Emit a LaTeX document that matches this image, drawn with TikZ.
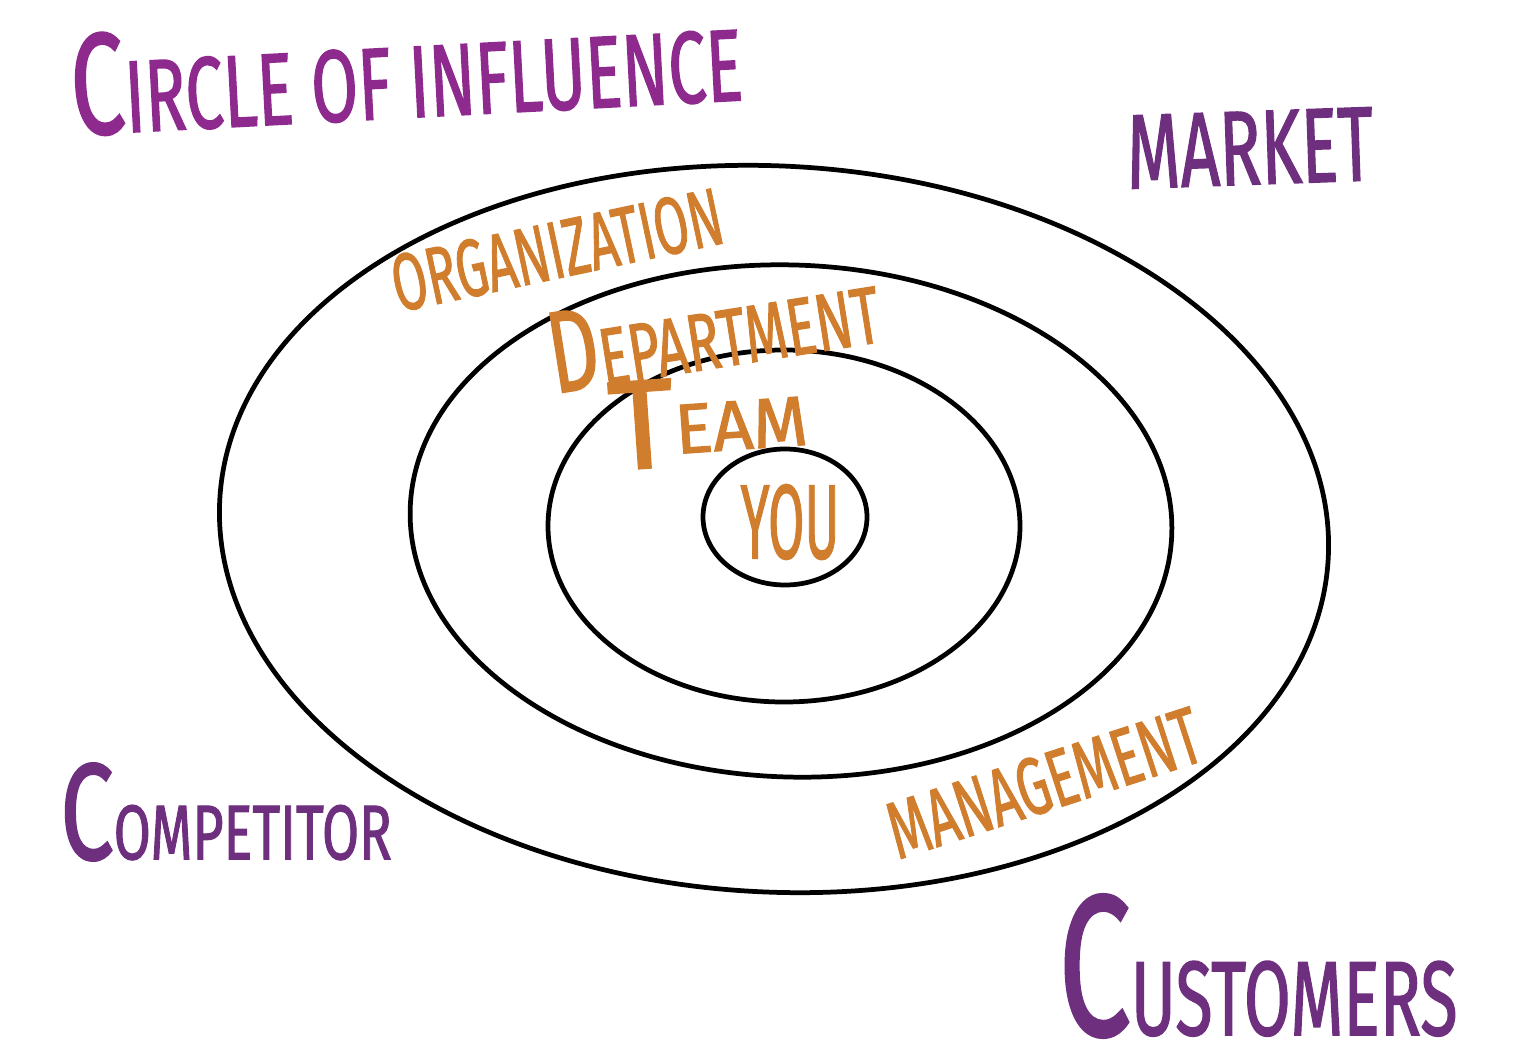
\documentclass[tikz,border=0pt]{standalone}
\usepackage{fontspec}
\setmainfont{Fira Sans}
\newfontfamily\handfont{Fira Sans}[FakeBold=1.6, AutoFakeBold=1.6]
\usepackage{graphicx}
\usetikzlibrary{positioning}

\definecolor{plum}{HTML}{8E2A8E}
\definecolor{grape}{HTML}{6E2F7E}
\definecolor{ochre}{HTML}{D07E2E}

\newcommand{\squeeze}[2][0.62]{\scalebox{#1}[1]{\handfont\bfseries #2}}
\newcommand{\fsz}[1]{\fontsize{#1}{#1}\selectfont}

\begin{document}
\begin{tikzpicture}[x=0.01cm, y=-0.01cm,
    ring/.style={draw=black, line width=1.35pt},
    heading/.style={text=plum, inner sep=0pt},
    outside/.style={text=grape, inner sep=0pt},
    level/.style={text=ochre, inner sep=0pt}]

\useasboundingbox (0,0) rectangle (1530,1064);

% rings
\draw[ring, rotate around={-3:(774,529)}] (774,529) ellipse [x radius=555, y radius=363];
\draw[ring, rotate around={-2:(791,521)}] (791,521) ellipse [x radius=381, y radius=256];
\draw[ring] (784,526) ellipse [x radius=236, y radius=176];
\draw[ring] (785,517) ellipse [x radius=82, y radius=68];

% titles and surroundings
\node[heading, rotate=3] (title) at (406,68) {\squeeze[0.665]{\fsz{41}C\fsz{29}IRCLE OF INFLUENCE}};
\node[outside, rotate=2] (market) at (1250,148) {\squeeze[0.65]{\fsz{30}MARKET}};
\node[outside] (competitor) at (226,812) {\squeeze[0.695]{\fsz{39}C\fsz{22}OMPETITOR}};
\node[outside] (customers) at (1258,966) {\squeeze[0.645]{\fsz{57}C\fsz{30}USTOMERS}};

% ring labels
\node[level, rotate=12] (organization) at (557,250) {\squeeze[0.62]{\fsz{23}ORGANIZATION}};
\node[level, rotate=9] (department) at (713,328) {\squeeze[0.67]{\fsz{33}D\fsz{23}EPARTMENT}};
\node[level, rotate=4] (team) at (708,420) {\squeeze[1]{\fsz{36}T\fsz{20}\raisebox{0.12cm}{EAM}}};
\node[level] (you) at (790,522) {\squeeze[0.5]{\fsz{30}YOU}};
\node[level, rotate=18] (management) at (1044,783) {\squeeze[0.64]{\fsz{23}MANAGEMENT}};

\end{tikzpicture}
\end{document}
